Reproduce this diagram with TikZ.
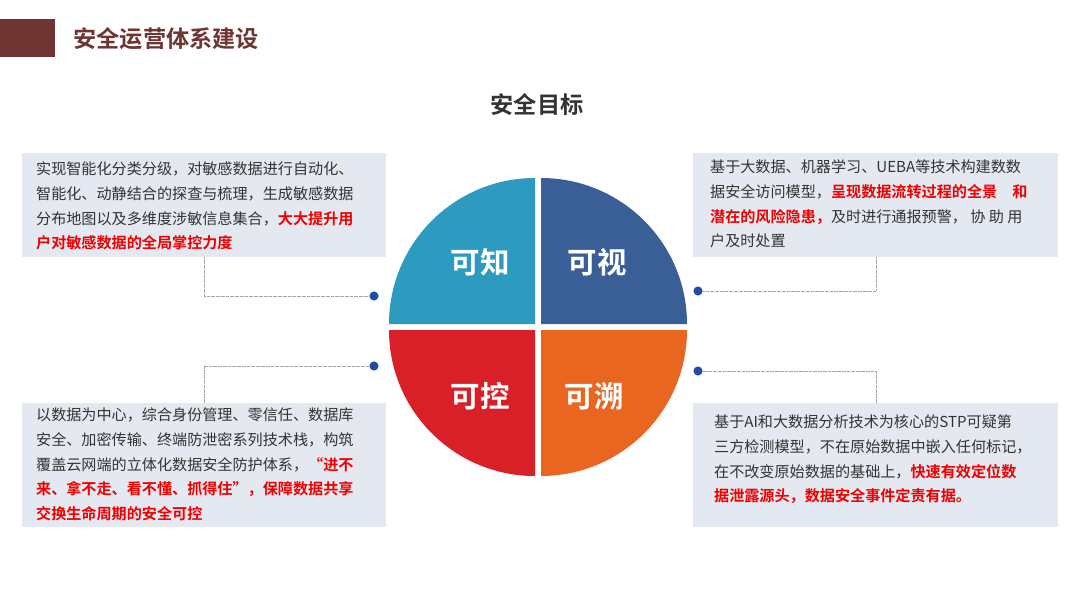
\documentclass[tikz,border=0pt]{standalone}
\usepackage{fontspec}
\setmainfont{Noto Sans CJK SC}[BoldFont={* Bold}]
\definecolor{hdr}{HTML}{6E3533}
\definecolor{boxbg}{HTML}{E4E8F0}
\definecolor{qa}{HTML}{2C9BBF}
\definecolor{qb}{HTML}{3A5F97}
\definecolor{qc}{HTML}{D92028}
\definecolor{qd}{HTML}{E8661F}
\definecolor{dotc}{HTML}{1F4EA0}
\definecolor{red}{HTML}{F00000}
\definecolor{txt}{HTML}{333333}
\begin{document}
\begin{tikzpicture}[x=0.05cm,y=-0.05cm,
  infobox/.style={fill=boxbg,draw=none},
  body/.style={anchor=north west,align=left,font=\fontsize{21.5}{35}\selectfont,text=txt,inner sep=0},
  quad/.style={text=white,font=\fontsize{42}{46}\selectfont\bfseries},
  lead/.style={draw=gray!70,densely dotted,line width=0.8pt},
  dot/.style={circle,fill=dotc,inner sep=0,minimum size=13pt}]
\useasboundingbox (0,0) rectangle (1080,608);
\fill[hdr] (0,19) rectangle (55,57);
\node[anchor=west,text=hdr,font=\fontsize{33}{36}\selectfont\bfseries] (title) at (71,39) {安全运营体系建设};
\node[text=txt,font=\fontsize{33}{36}\selectfont\bfseries] (goal) at (537,105) {安全目标};
% boxes
\fill[infobox] (22,153) rectangle (386,257);
\fill[infobox] (693,153) rectangle (1058,257);
\fill[infobox] (22,403) rectangle (386,527);
\fill[infobox] (693,403) rectangle (1058,527);
\node[body] (t1) at (36,162) {实现智能化分类分级，对敏感数据进行自动化、\\智能化、动静结合的探查与梳理，生成敏感数据\\分布地图以及多维度涉敏信息集合，\textcolor{red}{\bfseries 大大提升用}\\\textcolor{red}{\bfseries 户对敏感数据的全局掌控力度}};
\node[body] (t2) at (710,160) {基于大数据、机器学习、UEBA等技术构建数数\\据安全访问模型，\textcolor{red}{\bfseries 呈现数据流转过程的全景\quad 和}\\\textcolor{red}{\bfseries 潜在的风险隐患，}及时进行通报预警， 协 助 用\\户及时处置};
\node[body] (t3) at (36,408) {以数据为中心，综合身份管理、零信任、数据库\\安全、加密传输、终端防泄密系列技术栈，构筑\\覆盖云网端的立体化数据安全防护体系，\textcolor{red}{\bfseries “进不}\\\textcolor{red}{\bfseries 来、拿不走、看不懂、抓得住”，保障数据共享}\\\textcolor{red}{\bfseries 交换生命周期的安全可控}};
\node[body] (t4) at (714,415) {基于AI和大数据分析技术为核心的STP可疑第\\三方检测模型，不在原始数据中嵌入任何标记，\\在不改变原始数据的基础上，\textcolor{red}{\bfseries 快速有效定位数}\\\textcolor{red}{\bfseries 据泄露源头，数据安全事件定责有据。}};
% pie
\fill[qa] (535,324) -- (389,324) arc[start angle=180,end angle=270,radius=146] -- cycle;
\fill[qb] (541,324) -- (541,178) arc[start angle=270,end angle=360,radius=146] -- cycle;
\fill[qc] (535,330) -- (535,476) arc[start angle=90,end angle=180,radius=146] -- cycle;
\fill[qd] (541,330) -- (687,330) arc[start angle=0,end angle=90,radius=146] -- cycle;
\node[quad] (k1) at (480,262) {可知};
\node[quad] (k2) at (597,262) {可视};
\node[quad] (k3) at (480,396) {可控};
\node[quad] (k4) at (594,396) {可溯};
% leaders
\node[dot] (d1) at (374,296) {};
\node[dot] (d2) at (698,291) {};
\node[dot] (d3) at (374,366) {};
\node[dot] (d4) at (698,371) {};
\coordinate (c1) at (204,257); \coordinate (c2) at (876,257);
\coordinate (c3) at (204,403); \coordinate (c4) at (876,403);
\draw[lead] (c1) |- (d1);
\draw[lead] (c2) |- (d2);
\draw[lead] (c3) |- (d3);
\draw[lead] (c4) |- (d4);
\end{tikzpicture}
\end{document}
